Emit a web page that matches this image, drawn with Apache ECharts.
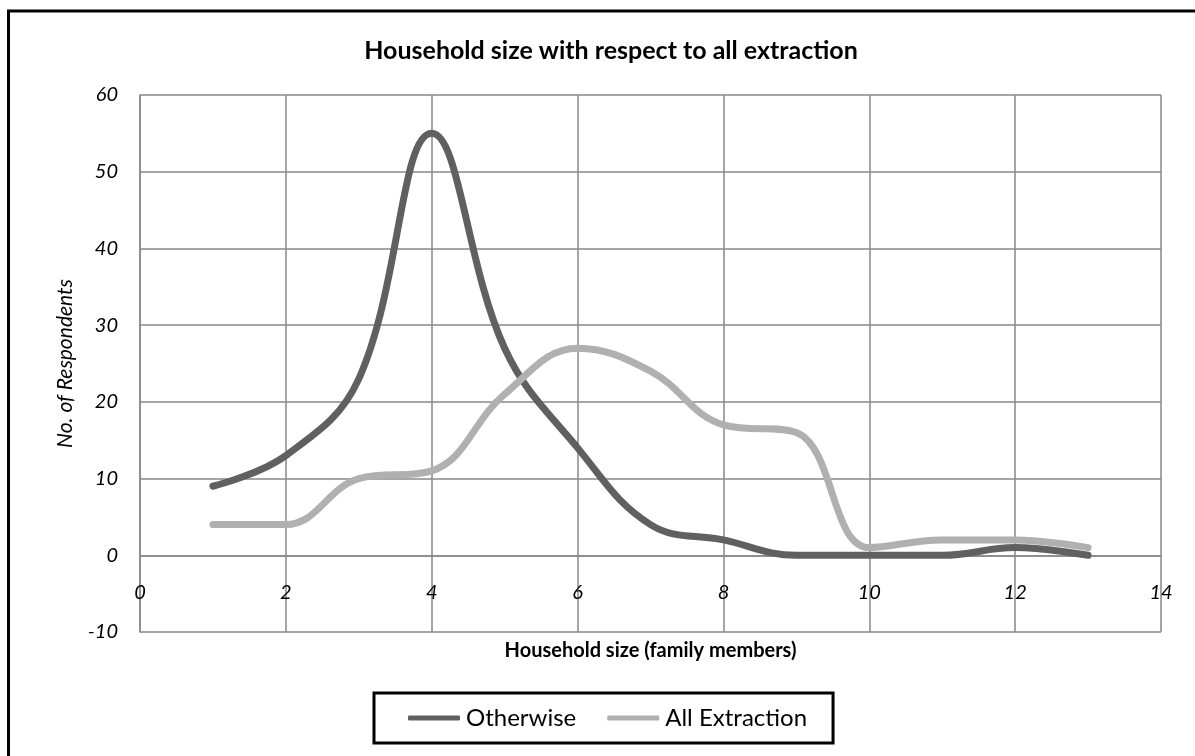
<!DOCTYPE html>
<html><head><meta charset="utf-8">
<script src="https://cdn.jsdelivr.net/npm/echarts@6/dist/echarts.min.js"></script>
<style>html,body{margin:0;padding:0;background:#fff}#c{width:1195px;height:756px}</style>
</head><body><div id="c"></div>
<script>
const householdSize = [1,2,3,4,5,6,7,8,9,10,11,12,13];
const otherwise     = [9,13,23,55,27,14,4,2,0,0,0,1,0];
const allExtraction = [4,4,10,11,21,27,24,17,16,1,2,2,1];
const xTicks = {min:0, max:14, interval:2};
const yTicks = {min:-10, max:60, interval:10};

const FONT = 'Lato';
const GRID_H = 537;
// place the x axis where y = 0 (as in the original, axis crosses at zero)
const zeroOffset = -((0 - yTicks.min) / (yTicks.max - yTicks.min)) * GRID_H;
const chart = echarts.init(document.getElementById('c'), null, {renderer:'canvas'});
const pair = (xs, ys) => xs.map((x,i)=>[x, ys[i]]);
chart.setOption({
  animation:false,
  backgroundColor:'#fff',
  graphic:[{type:'rect', shape:{x:8.5,y:11,width:1300,height:900}, style:{fill:'none', stroke:'#000', lineWidth:3}, silent:true}],
  title:{text:'Household size with respect to all extraction', left:606, top:33, textAlign:'center',
    textStyle:{fontFamily:FONT, fontWeight:'bold', fontSize:25, color:'#000'}},
  grid:{left:140, top:95, width:1021, height:GRID_H, containLabel:false},
  legend:{left:374, top:693, orient:'horizontal', itemWidth:52, itemHeight:5, itemGap:31,
    icon:'roundRect', borderColor:'#000', borderWidth:3, borderRadius:0, padding:[13,26,13,34],
    textStyle:{fontFamily:FONT, fontSize:24, color:'#000', padding:[0,0,0,1]},
    data:['Otherwise','All Extraction']},
  xAxis:{type:'value', min:xTicks.min, max:xTicks.max, interval:xTicks.interval, position:'bottom', offset:zeroOffset,
    name:'Household size (family members)', nameLocation:'middle', nameGap:85,
    nameTextStyle:{fontFamily:FONT, fontWeight:'bold', fontSize:20, color:'#000'},
    axisLine:{show:true, onZero:false, lineStyle:{color:'#888', width:1.5}},
    axisTick:{show:false},
    axisLabel:{fontFamily:FONT, fontStyle:'italic', fontSize:20, color:'#000', margin:27},
    splitLine:{show:true, lineStyle:{color:'#888', width:1.5}}},
  yAxis:{type:'value', min:yTicks.min, max:yTicks.max, interval:yTicks.interval,
    name:'No. of Respondents', nameLocation:'middle', nameGap:64, nameRotate:90,
    nameTextStyle:{fontFamily:FONT, fontStyle:'italic', fontSize:21, color:'#000'},
    axisLine:{show:true, onZero:false, lineStyle:{color:'#888', width:1.5}},
    axisTick:{show:false},
    axisLabel:{fontFamily:FONT, fontStyle:'italic', fontSize:20, color:'#000', margin:22},
    splitLine:{show:true, lineStyle:{color:'#888', width:1.5}}},
  series:[
    {name:'Otherwise', type:'line', data:pair(householdSize, otherwise), smooth:0.4, showSymbol:false, symbol:'none',
      itemStyle:{color:'#606060'}, lineStyle:{color:'#606060', width:7, cap:'round', join:'round'}},
    {name:'All Extraction', type:'line', data:pair(householdSize, allExtraction), smooth:0.4, showSymbol:false, symbol:'none',
      itemStyle:{color:'#b0b0b0'}, lineStyle:{color:'#b0b0b0', width:7, cap:'round', join:'round'}}
  ]
});
</script></body></html>
